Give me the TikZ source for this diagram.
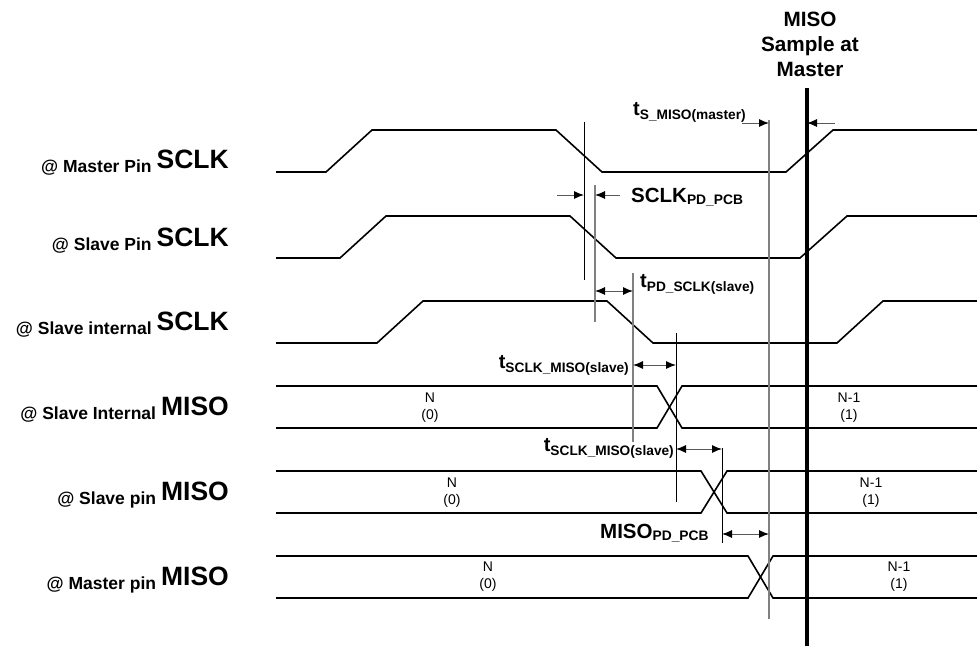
\documentclass[tikz,border=0pt]{standalone}
\usepackage{fontspec}
\setmainfont{Liberation Sans}
\usetikzlibrary{arrows.meta,calc}
\tikzset{
  waveLine/.style={
    line width=1.6pt,
    line join=miter
  },
  markLine/.style={
    line width=0.9pt,
    draw=black
  },
  markGray/.style={
    line width=1.1pt,
    draw=black!50
  },
  sampleLine/.style={
    line width=3.6pt
  },
  oneHead/.style={
    -{Latex[length=10pt,width=8pt,color=black]},
    line width=1pt,
    draw=black!65
  },
  twoHead/.style={
    {Latex[length=10pt,width=8pt,color=black]}-{Latex[length=10pt,width=8pt,color=black]},
    line width=1pt,
    draw=black!65
  },
  pinLabel/.style={
    anchor=base east,
    inner sep=0pt,
    font=\bfseries
  },
  timeLabel/.style={
    inner sep=0pt,
    font=\bfseries
  },
  dataLabel/.style={
    anchor=north,
    inner sep=0pt,
    align=center,
    font=\fontsize{14}{17}\selectfont
  }
}
\newcommand{\pinTxt}[2]{\raisebox{-4pt}{\fontsize{17.5}{18}\selectfont #1}\hspace{5pt}{\fontsize{26.5}{27}\selectfont #2}}
\newcommand{\tmTxt}[2]{{\fontsize{20}{20}\selectfont #1}\raisebox{-4pt}{\fontsize{13.7}{14}\selectfont #2}}
\newcommand{\pcbTxt}[2]{{\fontsize{20.5}{21}\selectfont #1}\raisebox{-2.5pt}{\fontsize{13.8}{14}\selectfont #2}}

\begin{document}
\begin{tikzpicture}[x=1pt, y=-1pt]
  \useasboundingbox (0,0) rectangle (977,646);

  % signal names
  \node[pinLabel] (lblMclk) at (229,168) {\pinTxt{@ Master Pin}{SCLK}};
  \node[pinLabel] (lblSclk) at (229,246) {\pinTxt{@ Slave Pin}{SCLK}};
  \node[pinLabel] (lblIclk) at (229,330) {\pinTxt{@ Slave internal}{SCLK}};
  \node[pinLabel] (lblImiso) at (229,415) {\pinTxt{@ Slave Internal}{MISO}};
  \node[pinLabel] (lblSmiso) at (229,500) {\pinTxt{@ Slave pin}{MISO}};
  \node[pinLabel] (lblMmiso) at (229,585) {\pinTxt{@ Master pin}{MISO}};

  % clocks
  \draw[waveLine] (276,172) -- (326,172) -- (372,130) -- (556,130) -- (602,172) -- (786,172) -- (833,130) -- (977,130);
  \draw[waveLine] (276,258) -- (340,258) -- (386,216) -- (570,216) -- (616,258) -- (800,258) -- (847,216) -- (977,216);
  \draw[waveLine] (276,343) -- (377,343) -- (423,301) -- (607,301) -- (653,343) -- (837,343) -- (883,301) -- (977,301);

  % data buses
  \foreach \yt/\yb/\xa/\xb in {386/428/657/682, 471/513/701/727, 556/598/748/773} {
    \draw[waveLine] (276,\yt) -- (\xa,\yt) -- (\xb,\yb) -- (977,\yb);
    \draw[waveLine] (276,\yb) -- (\xa,\yb) -- (\xb,\yt) -- (977,\yt);
  }
  \node[dataLabel] (dI0) at (430,393) {N\\(0)};
  \node[dataLabel] (dI1) at (849,393) {N-1\\(1)};
  \node[dataLabel] (dS0) at (452,478) {N\\(0)};
  \node[dataLabel] (dS1) at (871,478) {N-1\\(1)};
  \node[dataLabel] (dM0) at (488,562) {N\\(0)};
  \node[dataLabel] (dM1) at (899,562) {N-1\\(1)};

  % markers
  \coordinate (mA) at (584,122); \coordinate (mAe) at (584,280);
  \coordinate (mB) at (595,185); \coordinate (mBe) at (595,322);
  \coordinate (mC) at (633,273); \coordinate (mCe) at (633,442);
  \coordinate (mD) at (676,333); \coordinate (mDe) at (676,502);
  \coordinate (mE) at (722,448); \coordinate (mEe) at (722,543);
  \coordinate (mF) at (769,120); \coordinate (mFe) at (769,619);
  \draw[markLine] (mA) -- (mAe);
  \draw[markGray] (mB) -- (mBe);
  \draw[markGray] (mC) -- (mCe);
  \draw[markLine] (mD) -- (mDe);
  \draw[markLine] (mE) -- (mEe);
  \draw[markGray] (mF) -- (mFe);

  % sample point
  \node[timeLabel, anchor=north, align=center, font=\bfseries\fontsize{20.7}{25}\selectfont] (sampleTxt) at (810,12) {MISO\\Sample at\\Master};
  \coordinate (smp) at (807,88); \coordinate (smpe) at (807,646);
  \draw[sampleLine] (smp) -- (smpe);

  % delays
  \coordinate (pcbIn) at (557,195); \coordinate (pcbOut) at (620,195);
  \draw[oneHead] (pcbIn) -- (pcbIn -| mA);
  \draw[oneHead] (pcbOut) -- (pcbOut -| mB);
  \node[timeLabel, anchor=base west] (sclkPcb) at (631,202) {\pcbTxt{SCLK}{PD\_PCB}};

  \coordinate (pdS) at (595,291);
  \draw[twoHead] (pdS) -- (pdS -| mC);
  \node[timeLabel, anchor=base west] (pdSclk) at (640,287) {\tmTxt{t}{PD\_SCLK(slave)}};

  \coordinate (smI) at (633,365);
  \draw[twoHead] (smI) -- (smI -| mD);
  \node[timeLabel, anchor=base east] (sclkMisoA) at (629,368) {\tmTxt{t}{SCLK\_MISO(slave)}};

  \coordinate (smP) at (676,449);
  \draw[twoHead] (smP) -- (smP -| mE);
  \node[timeLabel, anchor=base east] (sclkMisoB) at (674,451) {\tmTxt{t}{SCLK\_MISO(slave)}};

  \coordinate (mpcb) at (722,534);
  \draw[twoHead] (mpcb) -- (mpcb -| mF);
  \node[timeLabel, anchor=base west] (misoPcb) at (600,538) {\pcbTxt{MISO}{PD\_PCB}};

  \coordinate (suIn) at (742,123); \coordinate (suOut) at (835,123);
  \draw[oneHead] (suIn) -- (suIn -| mF);
  \draw[oneHead] (suOut) -- (suOut -| smp);
  \node[timeLabel, anchor=base west] (setupTxt) at (633,115) {\tmTxt{t}{S\_MISO(master)}};
\end{tikzpicture}
\end{document}
